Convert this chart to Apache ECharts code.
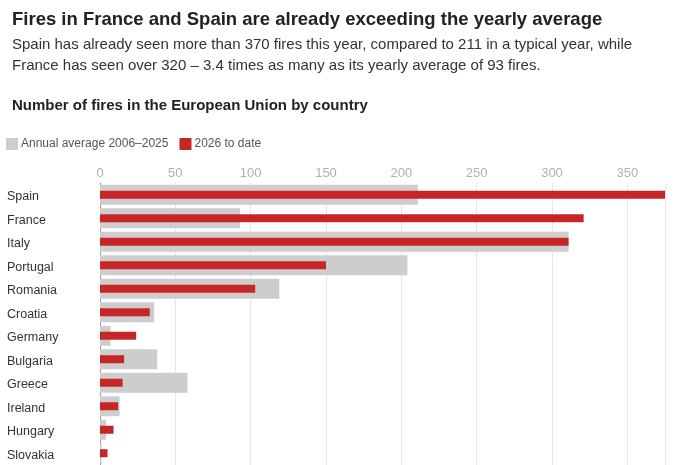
<!DOCTYPE html>
<html>
<head>
<meta charset="utf-8">
<script src="https://cdn.jsdelivr.net/npm/echarts@6/dist/echarts.min.js"></script>
<style>
  html, body { margin: 0; padding: 0; background: #fff; }
  #chart { width: 696px; height: 465px; }
</style>
</head>
<body>
<div id="chart"></div>
<script>
const countries = ["Spain", "France", "Italy", "Portugal", "Romania", "Croatia",
  "Germany", "Bulgaria", "Greece", "Ireland", "Hungary", "Slovakia"];
const average = [211, 93, 311, 204, 119, 36, 7, 38, 58, 13, 4, 1];
const toDate = [375, 321, 311, 150, 103, 33, 24, 16, 15, 12, 9, 5];
const ticks = [0, 50, 100, 150, 200, 250, 300, 350];

const chart = echarts.init(document.getElementById("chart"));
const font = "Liberation Sans, Arial, sans-serif";

// two category axes so the thin red bar sits centred on the grey one
const catAxis = {
  type: "category",
  inverse: true,
  data: countries,
  axisTick: { show: false },
};

const option = {
  animation: false,
  textStyle: { fontFamily: font },
  title: [
    {
      text: "Fires in France and Spain are already exceeding the yearly average",
      left: 7, top: 5,
      textStyle: { fontSize: 18.5, fontWeight: "bold", color: "#222", fontFamily: font },
    },
    {
      text: "Spain has already seen more than 370 fires this year, compared to 211 in a typical year, while\nFrance has seen over 320 – 3.4 times as many as its yearly average of 93 fires.",
      left: 7, top: 29,
      textStyle: { fontSize: 15, fontWeight: "normal", color: "#333", lineHeight: 21, fontFamily: font },
    },
    {
      text: "Number of fires in the European Union by country",
      left: 7, top: 93,
      textStyle: { fontSize: 15, fontWeight: "bold", color: "#222", fontFamily: font },
    },
  ],
  legend: {
    left: 6, top: 138, padding: 0,
    icon: "rect",
    itemWidth: 12, itemHeight: 12, itemGap: 11,
    textStyle: { fontSize: 12, color: "#555", fontFamily: font, padding: [0, 0, 0, -2] },
    data: ["Annual average 2006–2025", "2026 to date"],
  },
  grid: { left: 100, top: 183, width: 565, height: 288 },
  xAxis: {
    type: "value",
    position: "top",
    min: 0, max: 375, interval: 50,
    axisLine: { show: false },
    axisTick: { show: false },
    axisLabel: {
      color: "#b0b0b0", fontSize: 13, margin: 3,
      formatter: (v) => (ticks.includes(v) ? String(v) : ""),
    },
    splitLine: { lineStyle: { color: "#e6e6e6" } },
  },
  yAxis: [
    Object.assign({}, catAxis, {
      axisLine: { show: true, lineStyle: { color: "#999" } },
      axisLabel: {
        color: "#333", fontSize: 12.5, align: "left", margin: 93,
        verticalAlign: "top", lineHeight: 4,
      },
    }),
    Object.assign({}, catAxis, {
      position: "left",
      axisLine: { show: false },
      axisLabel: { show: false },
    }),
  ],
  series: [
    {
      name: "Annual average 2006–2025",
      type: "bar",
      yAxisIndex: 0,
      data: average,
      barWidth: 20,
      itemStyle: { color: "#cdcdcd" },
    },
    {
      name: "2026 to date",
      type: "bar",
      yAxisIndex: 1,
      data: toDate,
      barWidth: 8,
      itemStyle: { color: "#c62626" },
    },
  ],
};

chart.setOption(option);
</script>
</body>
</html>
